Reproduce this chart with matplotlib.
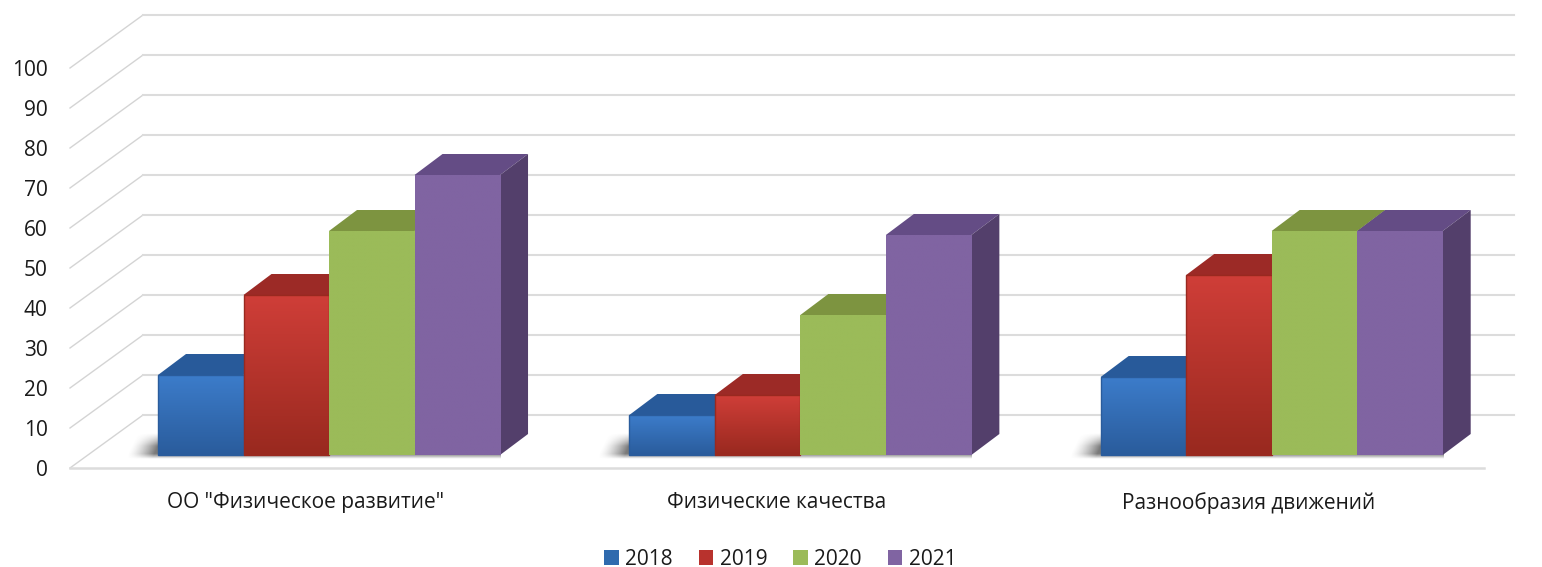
from matplotlib import pyplot as plt
from matplotlib.colors import to_rgb
from matplotlib.patches import Polygon, Patch, Rectangle
import numpy as np

plt.rcParams['font.family'] = ['Open Sans', 'DejaVu Sans']

# Data
# ===================================================
categories = ['ОО "Физическое развитие"', 'Физические качества', 'Разнообразия движений']
years = ['2018', '2019', '2020', '2021']
values_2018 = [20, 10, 19.5]
values_2019 = [40, 15, 45]
values_2020 = [56, 35, 56]
values_2021 = [70, 55, 56]
y_ticks = [0, 10, 20, 30, 40, 50, 60, 70, 80, 90, 100]

# Colours per series: gradient top, gradient bottom, roof, side
colors = [('#3c7cca', '#2a5c9c', '#285a9a', '#234f86'),
          ('#cf3e38', '#99291f', '#9c2a26', '#8a2521'),
          ('#9bbb59', '#9bbb59', '#7d9440', '#6f8438'),
          ('#8064a2', '#8064a2', '#644c85', '#533f6b')]

# Geometry (category units on x, value units on y)
# ===================================================
W, H = 1542, 567
left, right, y0_px, y100_px = 70, 1484, 468, 68
depth_x, depth_y = 73 / 471.3, 13.25     # depth of the floor
bar_dx, bar_dy = 28 / 471.3, 5.25        # depth of a bar
bar_w = 85.5 / 471.3
start = (158 - 70) / 471.3
base = 3.25                              # bar foot above the front floor line
grid_end = 3 + (1514 - 1484) / 471.3

fig = plt.figure(figsize=(W / 100, H / 100), dpi=100)
ax = fig.add_axes([left / W, 1 - y0_px / H, (right - left) / W, (y0_px - y100_px) / H])

# Gridlines: back wall and left wall
for t in y_ticks:
    ax.plot([0, depth_x], [t, t + depth_y], color='#d4d4d4', lw=1.0, clip_on=False, zorder=1)
    ax.plot([depth_x, grid_end], [t + depth_y, t + depth_y], color='#dcdcdc', lw=1.5,
            clip_on=False, zorder=1)
ax.plot([0, 3], [0, 0], color='#dcdcdc', lw=1.8, clip_on=False, zorder=1)

# Soft shadow under each group, slanted to the left
gx, gy = np.meshgrid(np.linspace(0, 1, 400), np.linspace(0, 1, 60))
alpha = np.clip((gx - (1 - gy) * 0.03) * 14, 0, 1) ** 1.5
alpha = alpha * np.clip(gy * 2.0, 0, 1) * np.clip((1 - gy) * 5, 0, 1) * 0.75
shadow = np.zeros((60, 400, 4))
shadow[..., :3] = 0.3
shadow[..., 3] = alpha

# Bars
all_values = [values_2018, values_2019, values_2020, values_2021]
for c in range(len(categories)):
    x0 = c + start
    ax.imshow(shadow, extent=[x0 - 0.07, x0 + 4 * bar_w, base - 1, base + 5.5], origin='upper',
              aspect='auto', clip_on=False, zorder=2, interpolation='bilinear')
    for s, vals in enumerate(all_values):
        top = base + vals[c]
        xl = x0 + s * bar_w
        xr = xl + bar_w
        top_c, bot_c, roof_c, side_c = colors[s]
        z = 3 + s
        ax.add_patch(Polygon([(xl, top), (xl + bar_dx, top + bar_dy), (xr + bar_dx, top + bar_dy), (xr, top)],
                             fc=roof_c, ec='none', clip_on=False, zorder=z))
        ax.add_patch(Polygon([(xr, base), (xr + bar_dx, base + bar_dy), (xr + bar_dx, top + bar_dy), (xr, top)],
                             fc=side_c, ec='none', clip_on=False, zorder=z))
        t0 = np.array(to_rgb(top_c))
        b0 = np.array(to_rgb(bot_c))
        grad = np.linspace(0, 1, 64)[:, None, None] * (b0 - t0) + t0
        ax.imshow(grad, extent=[xl, xr, base, top], origin='upper', aspect='auto',
                  clip_on=False, zorder=z + 0.1, interpolation='bilinear')
        if s < 2:
            ax.add_patch(Rectangle((xl, base), bar_w, vals[c], fc='none', ec=bot_c, lw=1.0,
                                   clip_on=False, zorder=z + 0.2))

ax.set_xlim(0, 3)
ax.set_ylim(0, 100)
ax.set_yticks(y_ticks)
ax.set_xticks([0.5, 1.5, 2.5])
ax.set_xticklabels(categories)
ax.tick_params(axis='y', length=0, pad=16, labelsize=15, labelcolor='#1a1a1a')
ax.tick_params(axis='x', length=0, pad=17.5, labelsize=15, labelcolor='#1a1a1a')
for sp in ax.spines.values():
    sp.set_visible(False)
ax.patch.set_visible(False)

handles = [Patch(fc=c, ec='none') for c in ['#2f6aae', '#b8322d', colors[2][0], colors[3][0]]]
fig.legend(handles, years, loc='lower center', ncol=4, frameon=False, fontsize=15,
           bbox_to_anchor=(0.506, -0.02), handlelength=0.7, handleheight=0.7, borderaxespad=0,
           handletextpad=0.3, columnspacing=1.25, labelcolor='#1a1a1a')

plt.savefig('out.png', dpi=100)
